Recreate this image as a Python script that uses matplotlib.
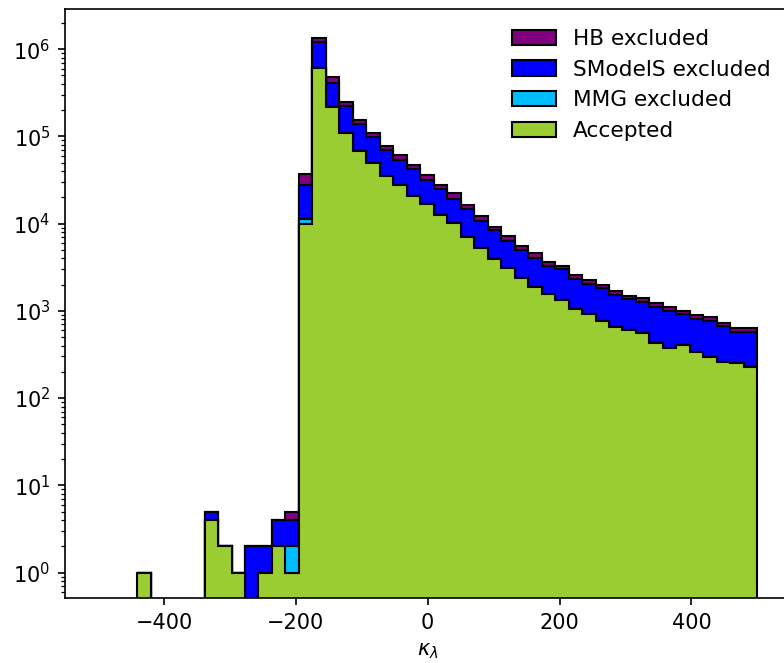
# kappa_lambda histogram: stacked counts of points per exclusion category
import numpy as np
import matplotlib
matplotlib.use("Agg")
import matplotlib.pyplot as plt

# bin range of kappa_lambda and number of bins
kmin = -440.7
kmax = 500.0
nbins = 46

# counts per bin (stacked from the bottom: accepted, MMG, SModelS, HB)
accepted = [1, 0, 0, 0, 0, 4, 2, 1, 0, 1, 2, 1,
            10000, 611000, 218000, 110000, 68300, 49800, 35300, 27600,
            20800, 16700, 12700, 10050, 7000, 5250, 3900, 3100, 2400, 1890,
            1580, 1350, 1040, 918, 769, 656, 601, 561, 424, 378,
            405, 340, 293, 256, 250, 228]
mmg = [0, 0, 0, 0, 0, 0, 0, 0, 0, 0, 0, 1,
       1200, 0, 0, 0, 0, 0, 0, 0,
       0, 0, 0, 0, 0, 0, 0, 0, 0, 0,
       0, 0, 0, 0, 0, 0, 0, 0, 0, 0,
       0, 0, 0, 0, 0, 0]
smodels = [0, 0, 0, 0, 0, 1, 0, 0, 2, 1, 2, 2,
           16700, 589000, 193000, 112000, 69700, 49100, 35500, 25900,
           21700, 14800, 12400, 9150, 7900, 5550, 4520, 3250, 2570, 2170,
           1705, 1658, 1251, 1089, 1036, 854, 776, 706, 697, 612,
           519, 470, 477, 414, 324, 346]
hb = [0, 0, 0, 0, 0, 0, 0, 0, 0, 0, 0, 1,
      9000, 160000, 70000, 23000, 15000, 10100, 7200, 7500,
      4400, 5100, 3000, 3000, 1600, 1600, 780, 800, 530, 490,
      365, 292, 289, 253, 175, 190, 113, 123, 109, 110,
      76, 90, 75, 55, 56, 56]

labels = ["Accepted", "MMG excluded", "SModelS excluded", "HB excluded"]
colors = ["yellowgreen", "deepskyblue", "blue", "purple"]

edges = np.linspace(kmin, kmax, nbins + 1)
centers = 0.5 * (edges[1:] + edges[:-1])

fig = plt.figure(figsize=(784 / 150, 663 / 150), dpi=150)
ax = fig.add_axes([0.083, 0.098, 0.925, 0.888])

ax.hist([centers] * 4, bins=edges,
        weights=[accepted, mmg, smodels, hb],
        stacked=True, histtype="stepfilled", log=True,
        color=colors, edgecolor="black", label=labels)

ax.set_xlim(-550, 550)
ax.set_ylim(0.51, 2.87e6)
ax.set_xlabel(r"$\kappa_\lambda$")
ax.legend(loc="upper right", frameon=False, fontsize=10.4)

fig.savefig("out.png", dpi=150)
